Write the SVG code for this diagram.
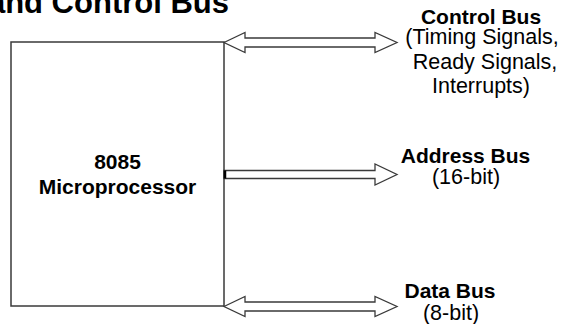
<svg xmlns="http://www.w3.org/2000/svg" width="565" height="324" viewBox="0 0 565 324">
  <style>
    .box { fill: #ffffff; stroke: #3a3a3a; stroke-width: 1.5; }
    .bus { fill: #ffffff; stroke: #3a3a3a; stroke-width: 1.3; stroke-linejoin: miter; }
    .lbl { font-family: "Liberation Sans", Arial, sans-serif; font-size: 21.5px; fill: #000000; text-anchor: middle; }
    .b { font-weight: bold; font-size: 21px; }
    .title { font-family: "Liberation Sans", Arial, sans-serif; font-size: 31px; font-weight: bold; fill: #000000; }
  </style>
  <rect width="565" height="324" fill="#ffffff"/>
  <text class="title" x="229" y="13" text-anchor="end">and Control Bus</text>

  <g id="cpu">
    <rect class="box" x="11" y="42" width="213" height="264"/>
    <text class="lbl b" x="117.5" y="169">8085</text>
    <text class="lbl b" x="117.5" y="194">Microprocessor</text>
  </g>

  <g id="connectors">
    <polygon id="control-arrow" class="bus" points="224,42.5 245,32.5 245,38 375,38 375,32.5 397,42.5 375,52.5 375,47 245,47 245,52.5"/>
    <polygon id="address-arrow" class="bus" points="224,170.5 375,170.5 375,164 397,174.5 375,185 375,178.5 224,178.5"/>
    <line x1="225" y1="170.5" x2="225" y2="178.5" stroke="#000" stroke-width="2.5"/>
    <polygon id="data-arrow" class="bus" points="224,306.5 245,296.5 245,302 375,302 375,296.5 397,306.5 375,316.5 375,311 245,311 245,316.5"/>
  </g>

  <g id="control-bus">
    <text class="lbl b" x="481" y="24">Control Bus</text>
    <text class="lbl" x="482" y="44">(Timing Signals,</text>
    <text class="lbl" x="485" y="69">Ready Signals,</text>
    <text class="lbl" x="481" y="93">Interrupts)</text>
  </g>
  <g id="address-bus">
    <text class="lbl b" x="465.5" y="163">Address Bus</text>
    <text class="lbl" x="466" y="184">(16-bit)</text>
  </g>
  <g id="data-bus">
    <text class="lbl b" x="450" y="298">Data Bus</text>
    <text class="lbl" x="451" y="320">(8-bit)</text>
  </g>
</svg>
